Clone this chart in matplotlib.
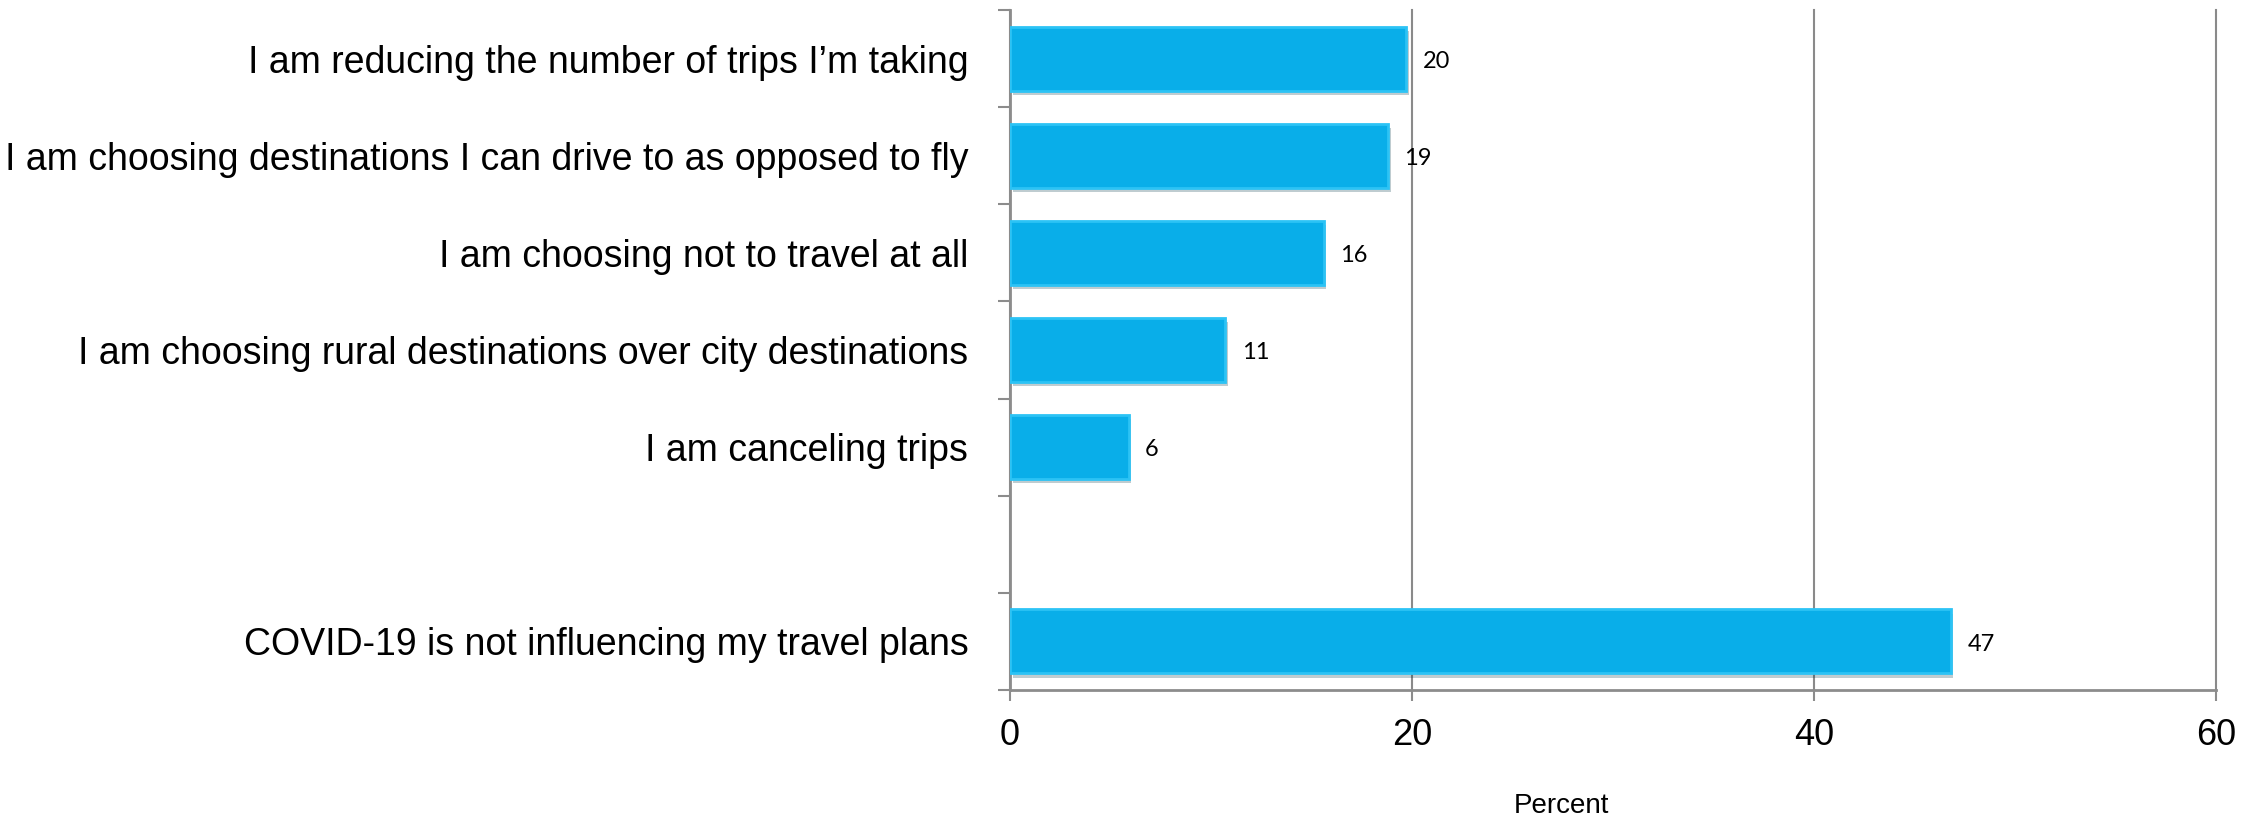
import matplotlib
matplotlib.use("Agg")
import matplotlib.pyplot as plt
import matplotlib.patheffects as pe
from matplotlib import font_manager
import numpy as np

# survey answers, top to bottom; a blank slot sits before the last one
categories = [
    "I am reducing the number of trips I\u2019m taking",
    "I am choosing destinations I can drive to as opposed to fly",
    "I am choosing not to travel at all",
    "I am choosing rural destinations over city destinations",
    "I am canceling trips",
    "COVID-19 is not influencing my travel plans",
]
values = [19.7, 18.8, 15.6, 10.7, 5.9, 46.8]
slots = [0, 1, 2, 3, 4, 6]
x_ticks = [0, 20, 40, 60]


def pick_font(names):
    have = {f.name for f in font_manager.fontManager.ttflist}
    for n in names:
        if n in have:
            return n
    return "DejaVu Sans"


def main():
    label_font = pick_font(["Liberation Sans Narrow", "Liberation Sans", "Arial"])
    tick_font = pick_font(["Liberation Sans", "Arial"])
    value_font = pick_font(["Lato", "Open Sans", "DejaVu Sans"])

    fig = plt.figure(figsize=(22.67, 8.21), dpi=100)
    ax = fig.add_axes([0.4455, 0.1596, 0.532, 0.8282])

    bars = ax.barh(slots, values, height=0.66, color="#09aee9",
                   edgecolor="#2cc3f5", linewidth=2, zorder=3)
    for b in bars:
        b.set_path_effects([pe.SimplePatchShadow(offset=(2, -3), alpha=0.25),
                            pe.Normal()])

    for y, v in zip(slots, values):
        ax.annotate(f"{v:.0f}", xy=(v, y), xytext=(12, -2),
                    textcoords="offset points", va="center", ha="left",
                    fontsize=17, family=value_font, zorder=4)

    ax.set_xlim(0, 60)
    ax.set_ylim(6.5, -0.5)
    ax.set_xticks(x_ticks)
    ax.set_xticklabels([str(t) for t in x_ticks], family=tick_font, fontsize=26)
    ax.set_yticks(slots)
    ax.set_yticklabels(categories, family=label_font, fontsize=27)
    ax.set_yticks(np.arange(-0.5, 7.0, 1.0), minor=True)

    ax.tick_params(axis="y", which="major", length=0, pad=30)
    ax.tick_params(axis="y", which="minor", length=9, width=1.5,
                   color="#8c8c8c", direction="out")
    ax.tick_params(axis="x", which="major", length=8, width=1.5,
                   color="#8c8c8c", direction="out", pad=12)

    ax.grid(axis="x", color="#8a8a8a", linewidth=1.5, zorder=0)
    for line in ax.get_xgridlines():
        line.set_clip_on(False)
    for side in ["top", "right"]:
        ax.spines[side].set_visible(False)
    for side in ["left", "bottom"]:
        ax.spines[side].set_color("#8c8c8c")
        ax.spines[side].set_linewidth(2)

    ax.set_xlabel("Percent", family=tick_font, fontsize=20)
    ax.xaxis.set_label_coords(0.457, -0.152)

    fig.savefig("out.png", dpi=100)


if __name__ == "__main__":
    main()
